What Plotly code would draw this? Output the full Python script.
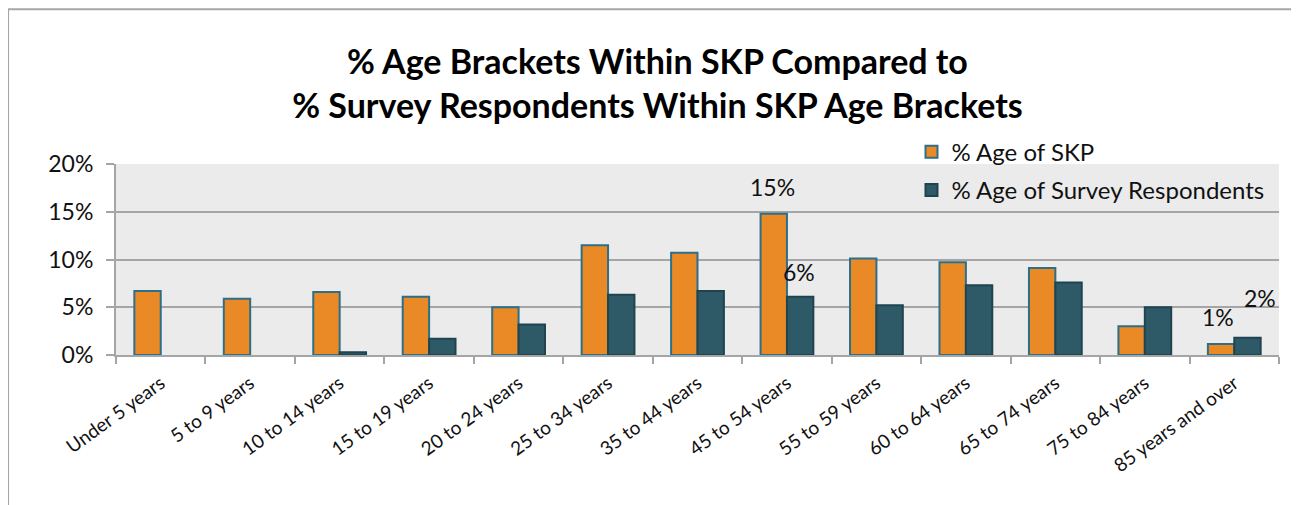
import plotly.graph_objects as go

# Age brackets and the two series (percent)
age_brackets = [
    'Under 5 years', '5 to 9 years', '10 to 14 years', '15 to 19 years',
    '20 to 24 years', '25 to 34 years', '35 to 44 years', '45 to 54 years',
    '55 to 59 years', '60 to 64 years', '65 to 74 years', '75 to 84 years',
    '85 years and over'
]
skp_pct = [6.7, 5.9, 6.6, 6.1, 5.0, 11.5, 10.7, 14.8, 10.1, 9.7, 9.1, 3.0, 1.15]
survey_pct = [None, None, 0.3, 1.7, 3.2, 6.3, 6.7, 6.1, 5.2, 7.3, 7.6, 5.0, 1.8]

y_ticks = [0, 5, 10, 15, 20]
y_tick_labels = ['0%', '5%', '10%', '15%', '20%']

# Data labels that are shown in the original (series, bracket)
labelled = [('skp', '45 to 54 years'), ('survey', '45 to 54 years'),
            ('skp', '85 years and over'), ('survey', '85 years and over')]

colors = {
    'skp': '#E98A26',
    'skp_edge': '#2D6E89',
    'survey': '#2E5A68',
    'survey_edge': '#1F4450',
    'grid': '#A5A5A5',
    'plot_bg': '#EBEBEB',
}

FONT = 'Lato, Calibri, sans-serif'

fig = go.Figure()

fig.add_trace(go.Bar(
    x=age_brackets, y=skp_pct, name='% Age of SKP',
    marker=dict(color=colors['skp'], line=dict(color=colors['skp_edge'], width=2)),
    legendgroup='a',
))
fig.add_trace(go.Bar(
    x=age_brackets, y=survey_pct, name='% Age of Survey Respondents',
    marker=dict(color=colors['survey'], line=dict(color=colors['survey_edge'], width=2)),
    legendgroup='b',
))

# Data labels, offset like the hand-placed labels of the original
series = {'skp': skp_pct, 'survey': survey_pct}
shifts = {
    ('skp', '45 to 54 years'): (-14, 27),
    ('survey', '45 to 54 years'): (12, 25),
    ('skp', '85 years and over'): (-16, 27),
    ('survey', '85 years and over'): (26, 40),
}
for key, bracket in labelled:
    val = series[key][age_brackets.index(bracket)]
    xs, ys = shifts[(key, bracket)]
    fig.add_annotation(
        x=bracket, y=val, text=f'{round(val):.0f}%', showarrow=False,
        xshift=xs, yshift=ys, font=dict(size=23, color='#111', family=FONT),
    )

# Outer chart border (right and bottom edges fall outside the figure)
fig.add_shape(
    type='rect', xref='paper', yref='paper',
    x0=-0.0928, x1=1.08, y0=-0.9, y1=1.81,
    line=dict(color='#A6A6A6', width=2), layer='below',
)

fig.update_layout(
    width=1299, height=505,
    title=dict(
        text='% Age Brackets Within SKP Compared to<br>% Survey Respondents Within SKP Age Brackets',
        x=0.5, xanchor='center', yref='container', y=0.87, yanchor='top',
        font=dict(size=34, family=FONT, color='#000', weight='bold'),
    ),
    barmode='group', bargap=0.41, bargroupgap=0,
    plot_bgcolor=colors['plot_bg'], paper_bgcolor='white',
    margin=dict(l=108, r=28, t=156, b=158),
    font=dict(family=FONT, color='#111'),
    legend=dict(
        x=0.684, y=1.18, xanchor='left', yanchor='top',
        bgcolor='rgba(0,0,0,0)', font=dict(size=24, family=FONT),
        traceorder='grouped', tracegroupgap=4, itemwidth=30,
    ),
    showlegend=True,
)

fig.update_xaxes(
    type='category', tickangle=-36, tickfont=dict(size=19, family=FONT),
    showline=True, linecolor=colors['grid'], linewidth=2,
    ticks='outside', tickson='boundaries', ticklen=7,
    tickcolor=colors['grid'], tickwidth=2, showgrid=False,
    ticklabelstandoff=8,
)
fig.update_yaxes(
    range=[0, 20], tickvals=y_ticks, ticktext=y_tick_labels,
    tickfont=dict(size=23, family=FONT),
    showline=True, linecolor=colors['grid'], linewidth=2,
    showgrid=True, gridcolor=colors['grid'], gridwidth=2,
    ticks='outside', ticklen=8, tickcolor=colors['grid'], tickwidth=2,
    zeroline=False, ticklabelstandoff=8,
)

fig.write_html('out.html')
